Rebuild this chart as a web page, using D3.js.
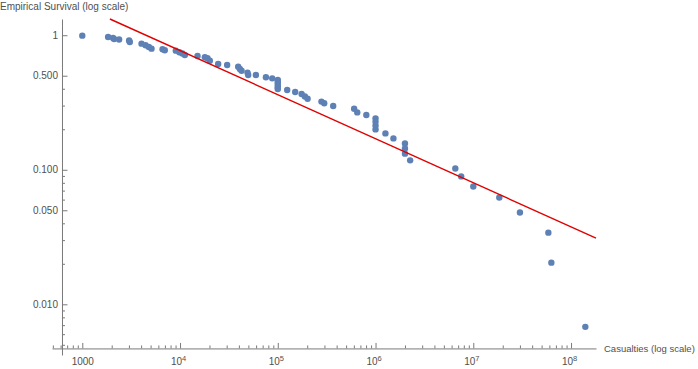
<!DOCTYPE html>
<html>
<head>
<meta charset="utf-8">
<script src="https://cdnjs.cloudflare.com/ajax/libs/d3/7.8.5/d3.min.js"></script>
<style>
  html, body { margin: 0; padding: 0; background: #fff; }
  svg { display: block; font-family: "Liberation Sans", Arial, sans-serif; }
</style>
</head>
<body>
<div id="chart"></div>
<script>
// ---- data ----
const casualties = [
  1000, 1837, 2065, 2115, 2382, 3013, 3062, 4036, 4436, 4797, 5110, 6620, 6985, 9053, 9840,
  10570, 11200, 15100, 17950, 19100, 20180, 24550, 30340, 39350, 40950, 42600, 49050, 49800,
  59700, 75600, 87700, 100000, 100000, 100000, 100000, 100000, 100000, 124800, 150700,
  175300, 189400, 201800, 279600, 298500, 369000, 604000, 650000, 805000,
  1000000, 1000000, 1000000, 1000000, 1262000, 1524000, 2000000, 2000000, 2000000, 2260000,
  6550000, 7520000, 10000000, 18450000, 30000000, 58600000, 62900000, 140000000
];
const survival = [
  0.993, 0.971, 0.955, 0.938, 0.930, 0.915, 0.891, 0.866, 0.842, 0.818, 0.795, 0.787, 0.773, 0.768, 0.747,
  0.732, 0.713, 0.701, 0.686, 0.674, 0.647, 0.611, 0.601, 0.584, 0.561, 0.545, 0.527, 0.506,
  0.506, 0.487, 0.478, 0.465, 0.450, 0.435, 0.421, 0.408, 0.398, 0.392, 0.378,
  0.366, 0.350, 0.337, 0.321, 0.312, 0.298, 0.284, 0.267, 0.255,
  0.241, 0.227, 0.213, 0.1995, 0.1864, 0.171, 0.157, 0.144, 0.1318, 0.1175,
  0.1023, 0.0893, 0.0751, 0.0622, 0.0481, 0.0341, 0.0204, 0.0068
];
// power-law fit: log10(S) = fitLogC + fitSlope * log10(x)
const fitLogC = 1.1956;
const fitSlope = -0.3275;

const xMajorTicks = [1e3, 1e4, 1e5, 1e6, 1e7, 1e8];
const xMajorLabels = [["1000", ""], ["10", "4"], ["10", "5"], ["10", "6"], ["10", "7"], ["10", "8"]];
const xMinorTicks = [500, 600, 700, 800, 900,
  2e3, 3e3, 4e3, 5e3, 6e3, 7e3, 8e3, 9e3,
  2e4, 3e4, 4e4, 5e4, 6e4, 7e4, 8e4, 9e4,
  2e5, 3e5, 4e5, 5e5, 6e5, 7e5, 8e5, 9e5,
  2e6, 3e6, 4e6, 5e6, 6e6, 7e6, 8e6, 9e6,
  2e7, 3e7, 4e7, 5e7, 6e7, 7e7, 8e7, 9e7];
const yMajorTicks = [1, 0.5, 0.1, 0.05, 0.01];
const yMajorLabels = ["1", "0.500", "0.100", "0.050", "0.010"];
const yMinorTicks = [0.4, 0.3, 0.2, 0.09, 0.08, 0.07, 0.06, 0.04, 0.03, 0.02,
  0.009, 0.008, 0.007, 0.006, 0.005];

const xTitle = "Casualties (log scale)";
const yTitle = "Empirical Survival (log scale)";

// ---- layout ----
const W = 698, H = 369;
const xDomain = [490, 1.8e8], yDomain = [0.0042, 1.32];
const xOrigin = 620, yOrigin = 0.0047;

const x = d3.scaleLog().domain(xDomain).range([52, 596]);
const y = d3.scaleLog().domain(yDomain).range([355, 19]);

const svg = d3.select("#chart").append("svg").attr("width", W).attr("height", H);

const axisColor = "#7a7a7a", textColor = "#505050";
const fontFam = "'Liberation Sans', Arial, sans-serif";

// x axis
const xPos = y(yOrigin);
const gxMinor = svg.append("g").attr("transform", `translate(0,${xPos})`)
  .call(d3.axisBottom(x).tickValues(xMinorTicks).tickFormat("").tickSize(-3).tickSizeOuter(0));
gxMinor.select("path.domain").remove();
const gx = svg.append("g").attr("transform", `translate(0,${xPos})`)
  .call(d3.axisBottom(x).tickValues(xMajorTicks).tickFormat("").tickSize(-5.5).tickSizeOuter(0).tickPadding(4));
svg.selectAll("path.domain").attr("stroke", axisColor);
gx.selectAll("line").attr("stroke", axisColor);
gxMinor.selectAll("line").attr("stroke", axisColor);
gx.selectAll("g.tick text")
  .attr("fill", textColor).attr("font-size", 10).attr("dy", null).attr("y", 17)
  .attr("font-family", fontFam)
  .each(function(d) {
    const i = xMajorTicks.indexOf(d);
    const t = d3.select(this);
    const lab = xMajorLabels[i];
    t.text(null);
    if (lab[1] === "") {
      t.append("tspan").text(lab[0]);
    } else {
      t.attr("x", -2);
      t.append("tspan").text(lab[0]);
      t.append("tspan").attr("dy", -4).attr("font-size", 7.5).text(lab[1]);
    }
  });

// y axis
const yPos = x(xOrigin);
const gyMinor = svg.append("g").attr("transform", `translate(${yPos},0)`)
  .call(d3.axisLeft(y).tickValues(yMinorTicks).tickFormat("").tickSize(-3).tickSizeOuter(0));
gyMinor.select("path.domain").remove();
const gy = svg.append("g").attr("transform", `translate(${yPos},0)`)
  .call(d3.axisLeft(y).tickValues(yMajorTicks).tickFormat((d, i) => yMajorLabels[i]).tickSize(-5.5).tickSizeOuter(0).tickPadding(4));
gy.select("path.domain").attr("stroke", axisColor);
gy.selectAll("line").attr("stroke", axisColor);
gyMinor.selectAll("line").attr("stroke", axisColor);
gy.selectAll("g.tick text").attr("fill", textColor).attr("font-size", 10)
  .attr("font-family", fontFam);

// axis titles
svg.append("text").attr("x", 0).attr("y", 10).attr("fill", textColor)
  .attr("font-size", 10).attr("font-family", fontFam).text(yTitle);
svg.append("text").attr("x", 604).attr("y", xPos + 3.5).attr("fill", textColor)
  .attr("font-size", 9.5).attr("font-family", fontFam).text(xTitle);

// points
const pts = casualties.map((c, i) => ({ c, s: survival[i] }));
svg.append("g").selectAll("circle").data(pts).join("circle")
  .attr("cx", d => x(d.c)).attr("cy", d => y(d.s)).attr("r", 3.2)
  .attr("fill", "#5e81b5");

// fit line
const fit = v => Math.pow(10, fitLogC + fitSlope * Math.log10(v));
const xStart = Math.pow(10, (Math.log10(yDomain[1]) - fitLogC) / fitSlope);
const lineData = [xStart, xDomain[1]];
svg.append("path")
  .attr("d", d3.line().x(d => x(d)).y(d => y(fit(d)))(lineData))
  .attr("fill", "none").attr("stroke", "#e00000").attr("stroke-width", 1.4);
</script>
</body>
</html>
